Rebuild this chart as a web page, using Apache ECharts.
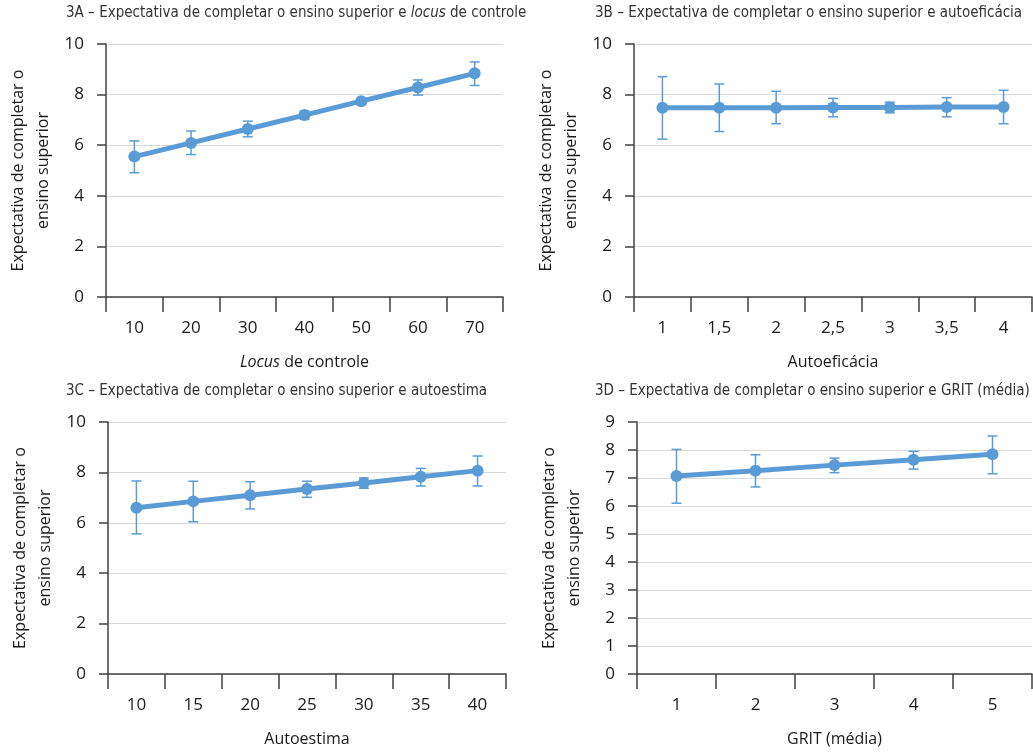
<!DOCTYPE html>
<html><head><meta charset="utf-8">
<script src="https://cdn.jsdelivr.net/npm/echarts@6/dist/echarts.min.js"></script>
<style>html,body{margin:0;padding:0;background:#fff}#c{width:1033px;height:753px}</style>
</head><body><div id="c"></div>
<script>
// Panel A: Locus de controle
const catsA = ['10','20','30','40','50','60','70'];
const meanA = [5.55, 6.09, 6.64, 7.19, 7.74, 8.28, 8.84];
const lowA  = [4.91, 5.63, 6.33, 7.02, 7.61, 7.98, 8.36];
const highA = [6.17, 6.56, 6.95, 7.35, 7.84, 8.58, 9.29];
// Panel B: Autoeficácia
const catsB = ['1','1,5','2','2,5','3','3,5','4'];
const meanB = [7.48, 7.48, 7.48, 7.49, 7.49, 7.51, 7.51];
const lowB  = [6.24, 6.54, 6.85, 7.12, 7.28, 7.12, 6.85];
const highB = [8.71, 8.42, 8.13, 7.85, 7.70, 7.88, 8.17];
// Panel C: Autoestima
const catsC = ['10','15','20','25','30','35','40'];
const meanC = [6.60, 6.85, 7.09, 7.34, 7.58, 7.83, 8.07];
const lowC  = [5.56, 6.04, 6.55, 7.01, 7.37, 7.46, 7.46];
const highC = [7.66, 7.65, 7.63, 7.65, 7.78, 8.16, 8.65];
// Panel D: GRIT (média)
const catsD = ['1','2','3','4','5'];
const meanD = [7.07, 7.26, 7.46, 7.65, 7.85];
const lowD  = [6.10, 6.68, 7.19, 7.32, 7.15];
const highD = [8.02, 7.83, 7.71, 7.95, 8.50];

const titles = [
  '3A – Expectativa de completar o ensino superior e {i|locus} de controle',
  '3B – Expectativa de completar o ensino superior e autoeficácia',
  '3C – Expectativa de completar o ensino superior e autoestima',
  '3D – Expectativa de completar o ensino superior e GRIT (média)'
];
const xNames = ['{i|Locus} de controle', 'Autoeficácia', 'Autoestima', 'GRIT (média)'];
const yName = 'Expectativa de completar o\nensino superior';

const panels = [
  {cats: catsA, mean: meanA, low: lowA, high: highA, max: 10, step: 2},
  {cats: catsB, mean: meanB, low: lowB, high: highB, max: 10, step: 2},
  {cats: catsC, mean: meanC, low: lowC, high: highC, max: 10, step: 2},
  {cats: catsD, mean: meanD, low: lowD, high: highD, max: 9, step: 1}
];
const grids = [
  {left: 106, top: 44, width: 397, height: 253},
  {left: 634, top: 44, width: 398, height: 253},
  {left: 108, top: 422, width: 398, height: 252},
  {left: 637, top: 422, width: 395, height: 252}
];
const titlePos = [{left: 66, top: 6}, {left: 595, top: 6}, {left: 66, top: 384}, {left: 595, top: 384}];

const FONT = 'Open Sans';
const TFONT = '"Liberation Sans Narrow", "DejaVu Sans Condensed", "Open Sans"';
const BLUE = '#5b9bd5';
const AX = '#404040';

const option = {
  animation: false,
  backgroundColor: '#fff',
  title: titles.map((t, i) => ({
    text: t, left: titlePos[i].left, top: titlePos[i].top, padding: 0,
    textStyle: {fontFamily: TFONT, fontSize: 15, fontWeight: 'normal', color: '#333',
      rich: {i: {fontFamily: TFONT, fontSize: 15, fontStyle: 'italic', color: '#333'}}}
  })),
  grid: grids,
  xAxis: panels.map((p, i) => ({
    type: 'category', gridIndex: i, data: p.cats, boundaryGap: true,
    name: xNames[i], nameLocation: 'middle', nameGap: 57,
    nameTextStyle: {fontFamily: FONT, fontSize: 16, color: '#1a1a1a',
      rich: {i: {fontFamily: FONT, fontSize: 16, fontStyle: 'italic', color: '#1a1a1a'}}},
    axisLine: {lineStyle: {color: AX, width: 1.5}},
    axisTick: {show: true, length: 15, interval: 0, alignWithLabel: false, lineStyle: {color: AX, width: 1.5}},
    axisLabel: {fontFamily: FONT, fontSize: 17, color: '#1a1a1a', margin: 23, interval: 0},
    splitLine: {show: false}
  })),
  yAxis: panels.map((p, i) => ({
    type: 'value', gridIndex: i, min: 0, max: p.max, interval: p.step,
    name: yName, nameLocation: 'middle', nameGap: 50, nameRotate: 90,
    nameTextStyle: {fontFamily: FONT, fontSize: 16, color: '#1a1a1a', lineHeight: 25, align: 'center'},
    axisLine: {show: true, lineStyle: {color: AX, width: 1.5}},
    axisTick: {show: true, length: 9, lineStyle: {color: AX, width: 1.5}},
    axisLabel: {fontFamily: FONT, fontSize: 17, color: '#1a1a1a', margin: 22},
    splitLine: {show: true, lineStyle: {color: '#d9d9d9', width: 1}}
  })),
  series: []
};

panels.forEach((p, i) => {
  option.series.push({
    type: 'custom', xAxisIndex: i, yAxisIndex: i, z: 1,
    data: p.cats.map((c, k) => [k, p.low[k], p.high[k]]),
    renderItem: function (params, api) {
      const x = api.value(0);
      const lo = api.coord([x, api.value(1)]);
      const hi = api.coord([x, api.value(2)]);
      const w = 5;
      const st = {stroke: BLUE, lineWidth: 1.5};
      return {type: 'group', children: [
        {type: 'line', shape: {x1: lo[0], y1: lo[1], x2: hi[0], y2: hi[1]}, style: st},
        {type: 'line', shape: {x1: lo[0]-w, y1: lo[1], x2: lo[0]+w, y2: lo[1]}, style: st},
        {type: 'line', shape: {x1: hi[0]-w, y1: hi[1], x2: hi[0]+w, y2: hi[1]}, style: st}
      ]};
    }
  });
  option.series.push({
    type: 'line', xAxisIndex: i, yAxisIndex: i, z: 2,
    data: p.mean, symbol: 'circle', symbolSize: 12,
    lineStyle: {color: BLUE, width: 5},
    itemStyle: {color: BLUE}
  });
});

const chart = echarts.init(document.getElementById('c'), null, {renderer: 'canvas'});
chart.setOption(option);
</script>
</body></html>
